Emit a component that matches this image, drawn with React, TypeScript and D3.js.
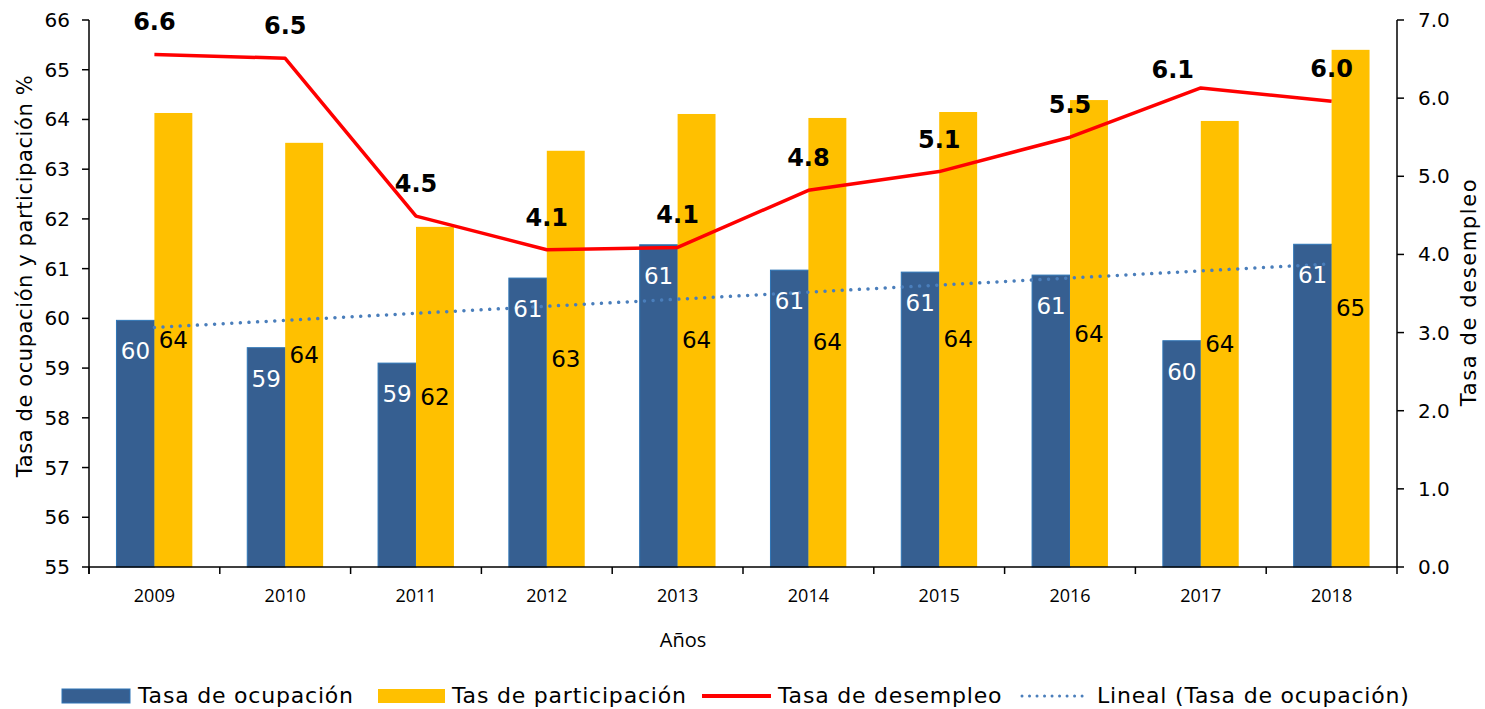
import React from "react";
import * as d3 from "d3";

const years = ["2009", "2010", "2011", "2012", "2013", "2014", "2015", "2016", "2017", "2018"];
const ocupacion = [59.96, 59.41, 59.1, 60.81, 61.48, 60.97, 60.93, 60.87, 59.55, 61.49];
const participacion = [64.13, 63.53, 61.84, 63.37, 64.11, 64.03, 64.15, 64.39, 63.97, 65.4];
const desempleo = [6.56, 6.51, 4.49, 4.06, 4.09, 4.82, 5.06, 5.5, 6.13, 5.96];
const leftTicks = [55, 56, 57, 58, 59, 60, 61, 62, 63, 64, 65, 66];
const rightTicks = [0, 1, 2, 3, 4, 5, 6, 7];

const W = 1485;
const H = 709;
const X0 = 89;
const X1 = 1397;
const Y0 = 567;
const Y1 = 20;

const FONT = "'DejaVu Sans', sans-serif";
const FONT2 = "'Open Sans', sans-serif";

const BLUE = "#365F91";
const BLUE_EDGE = "#2E75B6";
const YELLOW = "#FFC000";
const RED = "#FF0000";
const TREND = "#4A7EBB";

export default function App() {
  const x = d3.scaleBand<string>().domain(years).range([X0, X1]).paddingInner(0).paddingOuter(0);
  const yL = d3.scaleLinear().domain([55, 66]).range([Y0, Y1]);
  const yR = d3.scaleLinear().domain([0, 7]).range([Y0, Y1]);
  const bw = x.bandwidth() * 0.29;
  const cx = (y: string) => (x(y) as number) + x.bandwidth() / 2;

  // linear trend (least squares) of ocupacion
  const n = ocupacion.length;
  const idx = d3.range(n);
  const mx = d3.mean(idx) as number;
  const my = d3.mean(ocupacion) as number;
  const slope =
    d3.sum(idx.map((i) => (i - mx) * (ocupacion[i] - my))) / d3.sum(idx.map((i) => (i - mx) ** 2));
  const icpt = my - slope * mx;
  const trendLine = d3
    .line<number>()
    .x((i) => cx(years[i]))
    .y((i) => yL(icpt + slope * i))([0, n - 1]);

  const redLine = d3
    .line<number>()
    .x((_, i) => cx(years[i]))
    .y((d) => yR(d))(desempleo);

  const redNudge: Record<string, [number, number]> = { "2017": [-28, 14] };

  return (
    <svg width={W} height={H} style={{ position: "absolute", left: 0, top: 0, background: "#fff" }}>
      {/* bars */}
      {years.map((yr, i) => (
        <g key={yr}>
          <rect
            x={cx(yr) - bw}
            y={yL(ocupacion[i])}
            width={bw}
            height={Y0 - yL(ocupacion[i])}
            fill={BLUE}
            stroke={BLUE_EDGE}
            strokeWidth={1}
          />
          <rect
            x={cx(yr)}
            y={yL(participacion[i])}
            width={bw}
            height={Y0 - yL(participacion[i])}
            fill={YELLOW}
          />
        </g>
      ))}

      {/* trend */}
      <path
        d={trendLine as string}
        fill="none"
        stroke={TREND}
        strokeWidth={3.5}
        strokeLinecap="round"
        strokeDasharray="0.01 8.6"
      />
      {/* red line */}
      <path d={redLine as string} fill="none" stroke={RED} strokeWidth={3.5} strokeLinejoin="round" />

      {/* bar labels */}
      {years.map((yr, i) => (
        <g key={"l" + yr} fontFamily={FONT} fontSize={23}>
          <text
            x={cx(yr) - bw / 2}
            y={yL(ocupacion[i]) + 31}
            textAnchor="middle"
            dominantBaseline="central"
            fill="#fff"
          >
            {d3.format(".0f")(ocupacion[i])}
          </text>
          <text
            x={cx(yr) + bw / 2}
            y={(yL(participacion[i]) + Y0) / 2}
            textAnchor="middle"
            dominantBaseline="central"
            fill="#000"
          >
            {d3.format(".0f")(participacion[i])}
          </text>
          <text
            x={cx(yr) + (redNudge[yr] ? redNudge[yr][0] : 0)}
            y={yR(desempleo[i]) - 32 + (redNudge[yr] ? redNudge[yr][1] : 0)}
            textAnchor="middle"
            dominantBaseline="central"
            fontWeight="bold"
            fontSize={24}
            fill="#000"
          >
            {d3.format(".1f")(desempleo[i])}
          </text>
        </g>
      ))}

      {/* axes */}
      <g stroke="#000" strokeWidth={1.5} fill="none">
        <line x1={X0} y1={Y1} x2={X0} y2={Y0 + 7} />
        <line x1={X1} y1={Y1} x2={X1} y2={Y0 + 7} />
        <line x1={X0} y1={Y0} x2={X1} y2={Y0} />
        {leftTicks.map((t) => (
          <line key={"lt" + t} x1={X0 - 7} x2={X0} y1={yL(t)} y2={yL(t)} />
        ))}
        {rightTicks.map((t) => (
          <line key={"rt" + t} x1={X1} x2={X1 + 7} y1={yR(t)} y2={yR(t)} />
        ))}
        {years.map((yr) => (
          <line key={"xt" + yr} x1={x(yr) as number} x2={x(yr) as number} y1={Y0} y2={Y0 + 7} />
        ))}
      </g>
      <g fontFamily={FONT} fontSize={20} fill="#000">
        {leftTicks.map((t) => (
          <text key={"ltl" + t} x={70} y={yL(t)} textAnchor="end" dominantBaseline="central">
            {t}
          </text>
        ))}
        {rightTicks.map((t) => (
          <text key={"rtl" + t} x={1418} y={yR(t)} textAnchor="start" dominantBaseline="central">
            {d3.format(".1f")(t)}
          </text>
        ))}
      </g>
      <g fontFamily={FONT2} fontSize={18} fill="#000">
        {years.map((yr) => (
          <text key={"xl" + yr} x={cx(yr)} y={595} textAnchor="middle" dominantBaseline="central">
            {yr}
          </text>
        ))}
        <text x={683} y={639} textAnchor="middle" dominantBaseline="central" fontSize={20}>
          Años
        </text>
      </g>
      <text
        transform="translate(25,276) rotate(-90)"
        textAnchor="middle"
        dominantBaseline="central"
        fontFamily={FONT}
        fontSize={21}
        letterSpacing={0.6}
      >
        Tasa de ocupación y participación %
      </text>
      <text
        transform="translate(1469,292) rotate(-90)"
        textAnchor="middle"
        dominantBaseline="central"
        fontFamily={FONT}
        fontSize={21}
        letterSpacing={1.6}
      >
        Tasa de desempleo
      </text>

      {/* legend */}
      <g fontFamily={FONT} fontSize={22} fill="#000" letterSpacing={0.8}>
        <rect x={62} y={689} width={68} height={14} fill={BLUE} stroke={BLUE_EDGE} strokeWidth={1} />
        <text x={138} y={703}>Tasa de ocupación</text>
        <rect x={378} y={689} width={67} height={14} fill={YELLOW} />
        <text x={452} y={703}>Tas de participación</text>
        <line x1={702} x2={771} y1={696} y2={696} stroke={RED} strokeWidth={4} />
        <text x={778} y={703}>Tasa de desempleo</text>
        <line
          x1={1022}
          x2={1084}
          y1={696}
          y2={696}
          stroke={TREND}
          strokeWidth={3}
          strokeLinecap="round"
          strokeDasharray="0.01 7.5"
        />
        <text x={1097} y={703}>Lineal (Tasa de ocupación)</text>
      </g>
    </svg>
  );
}
